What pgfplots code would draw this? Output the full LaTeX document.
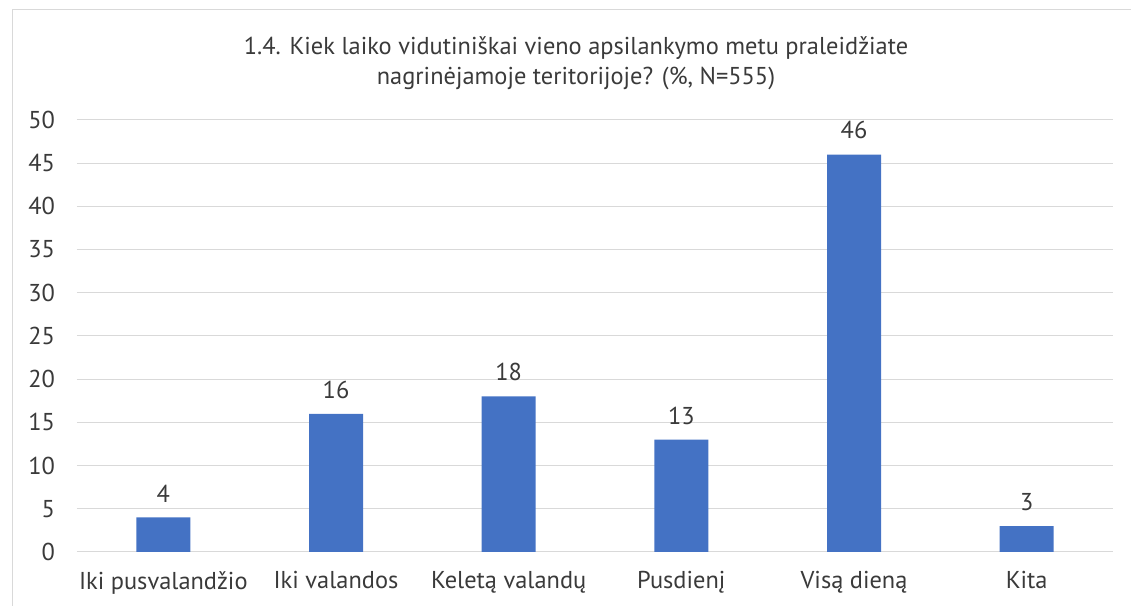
\documentclass[border=0pt]{standalone}
\usepackage{pgfplots}
\pgfplotsset{compat=1.18}
\usepackage{fontspec}
\setmainfont{PT Sans}
\definecolor{barblue}{HTML}{4472C4}
\definecolor{gridgray}{HTML}{D9D9D9}
\definecolor{txtgray}{HTML}{3A3A3A}
\begin{document}
\begin{tikzpicture}
\path[use as bounding box] (0pt,0pt) rectangle (848.25pt,454.5pt);
\draw[gridgray,line width=0.75pt] (9pt,0pt) -- (9pt,447pt) -- (848.25pt,447pt);
\node[txtgray,align=center,font=\fontsize{18.3}{22.5}\selectfont] at (432pt,407.25pt) {1.4. Kiek laiko vidutiniškai vieno apsilankymo metu praleidžiate\\nagrinėjamoje teritorijoje? (\%, N=555)};
\begin{axis}[
  at={(57.75pt,40.5pt)}, anchor=south west,
  scale only axis,
  width=777pt, height=324pt,
  xmin=-0.5, xmax=5.5, ymin=0, ymax=50,
  axis line style={draw=none},
  ytick={0,5,...,50},
  xtick={0,1,2,3,4,5},
  xticklabels={Iki pusvalandžio,Iki valandos,Keletą valandų,Pusdienį,Visą dieną,Kita},
  major tick length=0pt,
  ymajorgrids,
  grid style={gridgray,line width=0.75pt},
  tick label style={txtgray,font=\fontsize{18.3}{20}\selectfont},
  /pgf/number format/assume math mode=true,
  yticklabel style={xshift=-13pt},
  xticklabel style={yshift=-11pt},
  ybar, bar width=40.5pt,
  nodes near coords,
  every node near coord/.append style={txtgray,font=\fontsize{18.3}{20}\selectfont, yshift=8pt},
  clip=false,
]
\addplot[fill=barblue,draw=none] coordinates {(0,4) (1,16) (2,18) (3,13) (4,46) (5,3)};
\end{axis}
\end{tikzpicture}
\end{document}
